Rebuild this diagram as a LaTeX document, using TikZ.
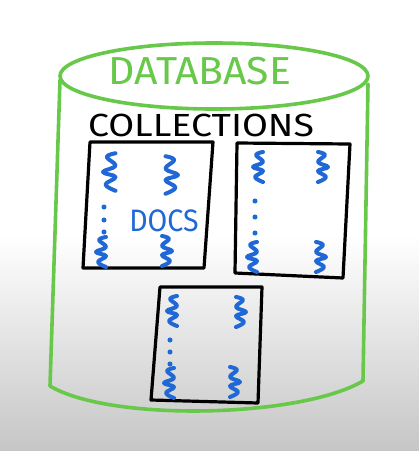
\documentclass[tikz,border=0pt]{standalone}
\usepackage{fontspec}
\setsansfont{Fira Sans}
\definecolor{dbgreen}{RGB}{104,200,74}
\definecolor{docblue}{RGB}{32,104,214}
\definecolor{bggray}{RGB}{198,198,198}
\begin{document}
\begin{tikzpicture}[x=1pt,y=-1pt,
    cylline/.style={draw=dbgreen,line width=3.6pt,line cap=round,line join=round},
    boxline/.style={draw=black,line width=3.2pt,line join=round},
    braceline/.style={draw=docblue,line width=4pt,line cap=round,line join=round},
    lbr/.pic={\draw[braceline] plot[smooth,tension=0.7] coordinates
        {(10,-15) (3,-12) (10,-5) (0,0) (10,4) (2,10) (10,15)};},
    rbr/.pic={\draw[braceline] plot[smooth,tension=0.7] coordinates
        {(-10,-15) (-3,-12) (-10,-5) (0,0) (-10,4) (-2,10) (-10,15)};},
    docdot/.style={fill=docblue,circle,inner sep=1.8pt}]
    % background
    \fill[white] (0,0) rectangle (419,451);
    \shade[top color=white,bottom color=bggray] (0,235) rectangle (419,451);
    \useasboundingbox (0,0) rectangle (419,451);
    % cylinder
    \draw[cylline] (214,76) ellipse [x radius=154,y radius=33];
    \draw[cylline] (60,80) -- (50,386)
        .. controls (110,422) and (300,418) .. (363,381) -- (368,84);
    \node[text=dbgreen,font=\sffamily\fontsize{39}{39}\selectfont,xscale=1.05] (dbname) at (200,71) {DATABASE};
    \node[font=\sffamily\fontsize{32}{32}\selectfont,xscale=1.17] (colname) at (201,125) {COLLECTIONS};
    % collections
    \draw[boxline] (90,142) -- (213,142) -- (204,268) -- (83,268) -- cycle;
    \draw[boxline] (237,143) -- (350,144) -- (343,278) -- (235,273) -- cycle;
    \draw[boxline] (160,287) -- (262,287) -- (258,403) -- (151,400) -- cycle;
    % first box
    \pic[scale=1.25] at (103,172) {lbr};
    \pic[scale=1.25] at (178,175) {rbr};
    \node[docdot] (a3) at (104,207) {};
    \node[docdot] (a4) at (104,220) {};
    \node[docdot] (a5) at (104,232) {};
    \node[text=docblue,font=\sffamily\fontsize{31}{31}\selectfont,xscale=0.92] (docs) at (164,221) {DOCS};
    \pic at (96,252) {lbr};
    \pic at (172,251) {rbr};
    % second box
    \pic at (253,167) {lbr};
    \pic at (328,167) {rbr};
    \node[docdot] (b3) at (255,201) {};
    \node[docdot] (b4) at (255,217) {};
    \node[docdot] (b5) at (255,233) {};
    \pic at (247,257) {lbr};
    \pic at (326,257) {rbr};
    % third box
    \pic at (167,311) {lbr};
    \pic at (246,312) {rbr};
    \node[docdot] (c3) at (170,340) {};
    \node[docdot] (c4) at (170,352) {};
    \node[docdot] (c5) at (170,364) {};
    \pic at (164,383) {lbr};
    \pic at (240,382) {rbr};
\end{tikzpicture}
\end{document}
